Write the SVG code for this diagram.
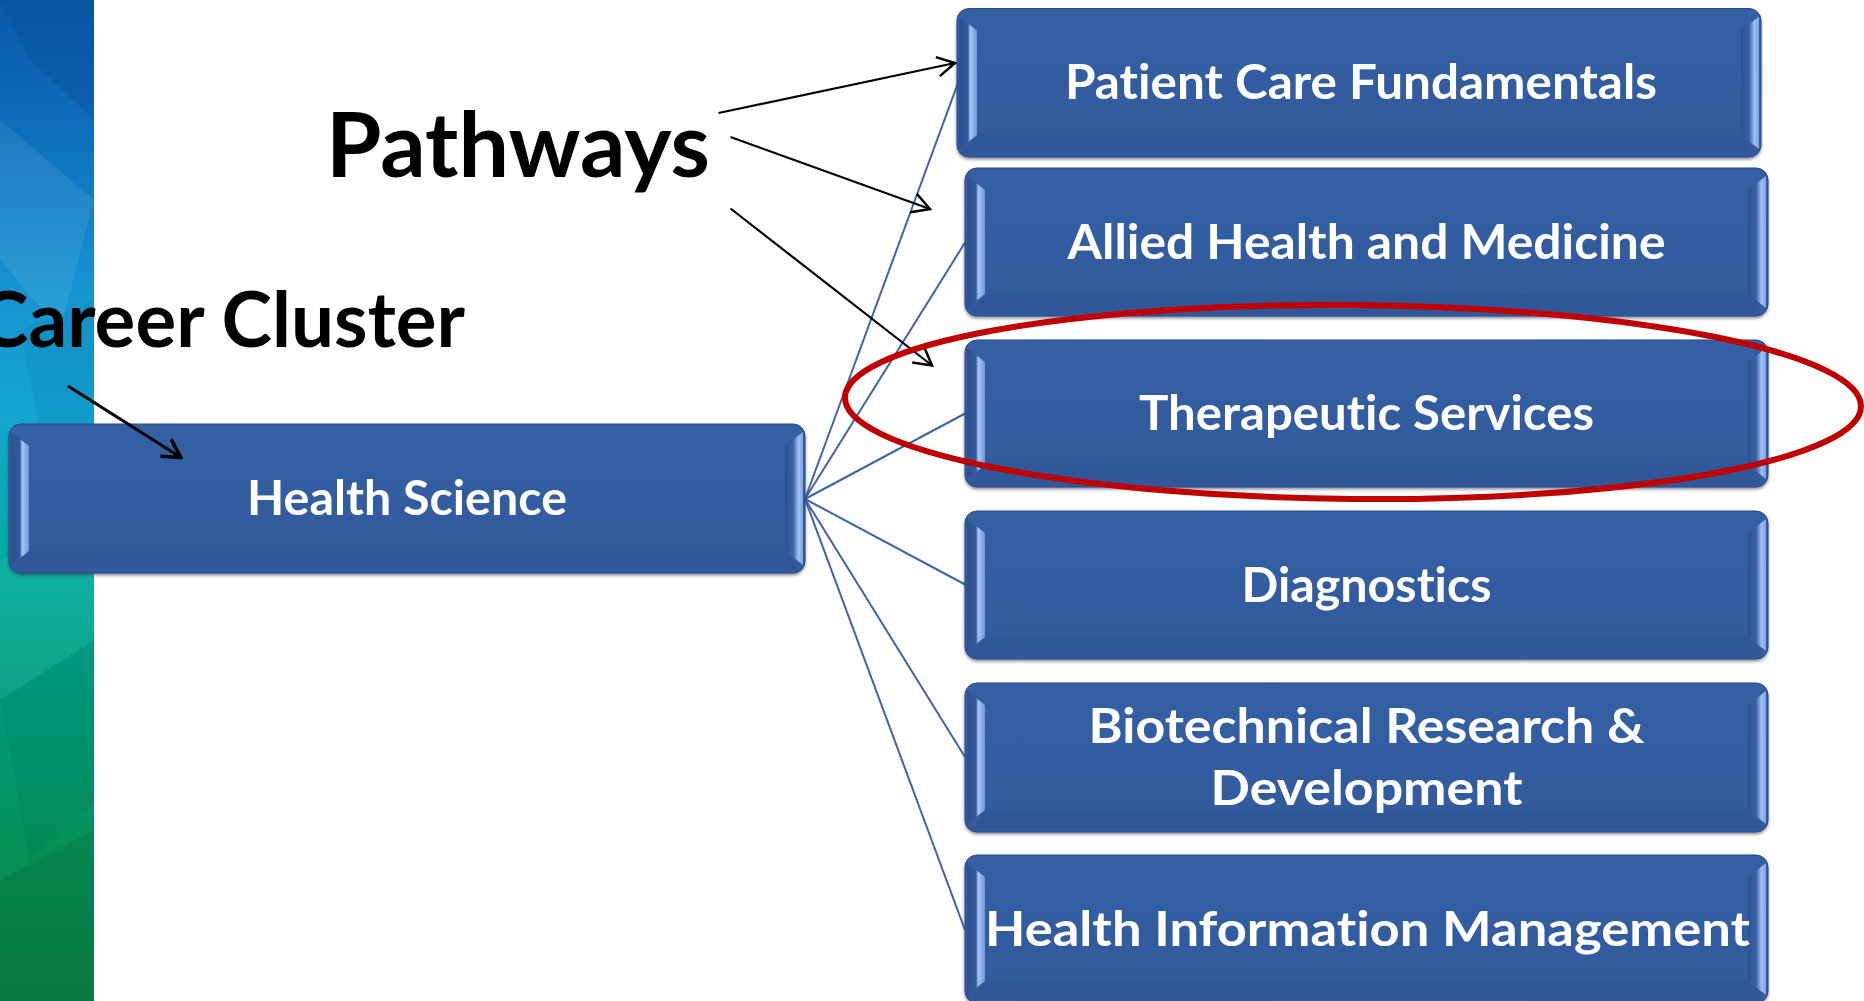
<svg xmlns="http://www.w3.org/2000/svg" width="1864" height="1001" viewBox="0 0 1864 1001">
  <defs>
    <linearGradient id="strip" x1="0" y1="0" x2="0" y2="1">
      <stop offset="0" stop-color="#0b57a8"/>
      <stop offset="0.12" stop-color="#0e6cba"/>
      <stop offset="0.3" stop-color="#1796d2"/>
      <stop offset="0.42" stop-color="#13a6cf"/>
      <stop offset="0.55" stop-color="#00ada2"/>
      <stop offset="0.7" stop-color="#009c7c"/>
      <stop offset="0.85" stop-color="#068f58"/>
      <stop offset="1" stop-color="#0a7f42"/>
    </linearGradient>
    <linearGradient id="face" x1="0" y1="0" x2="0" y2="1">
      <stop offset="0" stop-color="#3460a4"/>
      <stop offset="1" stop-color="#31599b"/>
    </linearGradient>
    <linearGradient id="lf" x1="0" y1="0" x2="1" y2="0">
      <stop offset="0" stop-color="#2d5291"/>
      <stop offset="0.5" stop-color="#34599a"/>
      <stop offset="0.62" stop-color="#a6c6f8"/>
      <stop offset="1" stop-color="#6f97d9"/>
    </linearGradient>
    <linearGradient id="rf" x1="0" y1="0" x2="1" y2="0">
      <stop offset="0" stop-color="#2d5291"/>
      <stop offset="0.45" stop-color="#3a62a6"/>
      <stop offset="0.75" stop-color="#9dbff2"/>
      <stop offset="1" stop-color="#7da4e2"/>
    </linearGradient>
    <filter id="shadow" x="-5%" y="-10%" width="110%" height="125%">
      <feDropShadow dx="0" dy="2" stdDeviation="1.5" flood-color="#2a3550" flood-opacity="0.55"/>
    </filter>
    <marker id="ah" viewBox="-22 -12 24 24" markerWidth="24" markerHeight="24" refX="0" refY="0" orient="auto" markerUnits="userSpaceOnUse">
      <path d="M-17.5,-9.7 L0,0 L-17.5,9.7" fill="none" stroke="#000" stroke-width="2.5"/>
    </marker>
    <marker id="ah3" viewBox="-22 -12 24 24" markerWidth="24" markerHeight="24" refX="0" refY="0" orient="auto" markerUnits="userSpaceOnUse">
      <path d="M-18,-10 L0,0 L-18,10" fill="none" stroke="#000" stroke-width="3.5"/>
    </marker>
  </defs>
  <style>
    .base { fill: url(#face); stroke: #2a4a82; stroke-width: 1; filter: url(#shadow); }
    .lf { fill: url(#lf); }
    .rf { fill: url(#rf); }
    .bf { fill: #2b4e8c; opacity: 0.25; }
    .bt { font-family: Lato, "Open Sans", "Liberation Sans", sans-serif; font-weight: 700; font-size: 48px; fill: #ffffff; text-anchor: middle; font-variant-ligatures: none; }
    .lbl { font-family: Lato, "Open Sans", "Liberation Sans", sans-serif; font-weight: 700; fill: #000000; font-variant-ligatures: none; }
    .conn { stroke: #3d64aa; stroke-width: 2; fill: none; }
    .arr { stroke: #000; stroke-width: 2.2; fill: none; marker-end: url(#ah); }
  </style>

  <rect width="1864" height="1001" fill="#ffffff"/>

  <g id="strip">
    <rect x="0" y="0" width="94" height="1001" fill="url(#strip)"/>
    <polygon points="0,0 94,0 94,120 30,60" fill="#0a4e9c" opacity="0.35"/>
    <polygon points="0,120 94,200 60,330 0,260" fill="#ffffff" opacity="0.08"/>
    <polygon points="20,330 94,300 94,470 40,430" fill="#0a6fa8" opacity="0.18"/>
    <polygon points="0,560 94,520 94,640 0,700" fill="#ffffff" opacity="0.06"/>
    <polygon points="0,700 94,640 94,800 30,860" fill="#006a50" opacity="0.15"/>
    <polygon points="0,880 94,830 94,1001 0,1001" fill="#05602f" opacity="0.2"/>
  </g>

  <g id="label-career-cluster">
    <text class="lbl" x="-22" y="347" font-size="77" textLength="487" lengthAdjust="spacingAndGlyphs">Career Cluster</text>
  </g>
  <g id="label-pathways">
    <text class="lbl" x="326" y="177" font-size="89" textLength="384" lengthAdjust="spacingAndGlyphs">Pathways</text>
  </g>

  <g id="connectors">
    <line class="conn" x1="805" y1="499" x2="958" y2="83"/>
    <line class="conn" x1="805" y1="499" x2="966" y2="241"/>
    <line class="conn" x1="805" y1="499" x2="966" y2="413"/>
    <line class="conn" x1="805" y1="499" x2="966" y2="585"/>
    <line class="conn" x1="805" y1="499" x2="965" y2="757"/>
    <line class="conn" x1="805" y1="499" x2="965" y2="930"/>
  </g>

  <g id="node-health-science" transform="translate(9,424)">
    <rect class="base" x="0" y="0" width="796" height="149" rx="12"/>
    <polygon class="lf" points="2,8 20,22 20,127 2,141"/>
    <polygon class="rf" points="776,22 794,8 794,141 776,127"/>
    <polygon class="bf" points="20,127 776,127 788,145 8,145"/>
    <text class="bt" x="398" y="91" textLength="320" lengthAdjust="spacingAndGlyphs">Health Science</text>
  </g>

  <g id="node-patient-care" transform="translate(957,8.5)">
    <rect class="base" x="0" y="0" width="804" height="148.5" rx="12"/>
    <polygon class="lf" points="2,8 20,22 20,126.5 2,140.5"/>
    <polygon class="rf" points="784,22 802,8 802,140.5 784,126.5"/>
    <polygon class="bf" points="20,126.5 784,126.5 796,144.5 8,144.5"/>
    <text class="bt" x="404" y="90" textLength="592" lengthAdjust="spacingAndGlyphs">Patient Care Fundamentals</text>
  </g>

  <g id="node-allied-health" transform="translate(965,168)">
    <rect class="base" x="0" y="0" width="803" height="148" rx="12"/>
    <polygon class="lf" points="2,8 20,22 20,126 2,140"/>
    <polygon class="rf" points="783,22 801,8 801,140 783,126"/>
    <polygon class="bf" points="20,126 783,126 795,144 8,144"/>
    <text class="bt" x="401.5" y="90.5" textLength="598" lengthAdjust="spacingAndGlyphs">Allied Health and Medicine</text>
  </g>

  <g id="node-therapeutic" transform="translate(965,340)">
    <rect class="base" x="0" y="0" width="803" height="147" rx="12"/>
    <polygon class="lf" points="2,8 20,22 20,125 2,139"/>
    <polygon class="rf" points="783,22 801,8 801,139 783,125"/>
    <polygon class="bf" points="20,125 783,125 795,143 8,143"/>
    <text class="bt" x="401.5" y="90" textLength="455" lengthAdjust="spacingAndGlyphs">Therapeutic Services</text>
  </g>

  <g id="node-diagnostics" transform="translate(965,511)">
    <rect class="base" x="0" y="0" width="803" height="148" rx="12"/>
    <polygon class="lf" points="2,8 20,22 20,126 2,140"/>
    <polygon class="rf" points="783,22 801,8 801,140 783,126"/>
    <polygon class="bf" points="20,126 783,126 795,144 8,144"/>
    <text class="bt" x="401.5" y="91" textLength="250" lengthAdjust="spacingAndGlyphs">Diagnostics</text>
  </g>

  <g id="node-biotechnical" transform="translate(965,683)">
    <rect class="base" x="0" y="0" width="803" height="149" rx="12"/>
    <polygon class="lf" points="2,8 20,22 20,127 2,141"/>
    <polygon class="rf" points="783,22 801,8 801,141 783,127"/>
    <polygon class="bf" points="20,127 783,127 795,145 8,145"/>
    <text class="bt" x="401.5" y="60" textLength="556" lengthAdjust="spacingAndGlyphs">Biotechnical Research &amp;</text>
    <text class="bt" x="401.5" y="122" textLength="312" lengthAdjust="spacingAndGlyphs">Development</text>
  </g>

  <g id="node-health-information" transform="translate(965,855)">
    <rect class="base" x="0" y="0" width="803" height="148" rx="12"/>
    <polygon class="lf" points="2,8 20,22 20,126 2,140"/>
    <polygon class="rf" points="783,22 801,8 801,140 783,126"/>
    <polygon class="bf" points="20,126 783,126 795,144 8,144"/>
    <text class="bt" x="402.5" y="91" textLength="765" lengthAdjust="spacingAndGlyphs">Health Information Management</text>
  </g>

  <g id="arrows">
    <line class="arr" x1="718.5" y1="113" x2="955" y2="63"/>
    <line class="arr" x1="730.5" y1="137" x2="930" y2="209"/>
    <line class="arr" x1="730.5" y1="208.5" x2="932" y2="365.5"/>
    <line x1="68" y1="386" x2="181" y2="457.5" stroke="#000" stroke-width="3.2" marker-end="url(#ah3)"/>
  </g>

  <g id="highlight">
    <ellipse cx="1353" cy="402" rx="508" ry="97" fill="none" stroke="#c00000" stroke-width="6" transform="rotate(0.5 1353 402)"/>
  </g>
</svg>
